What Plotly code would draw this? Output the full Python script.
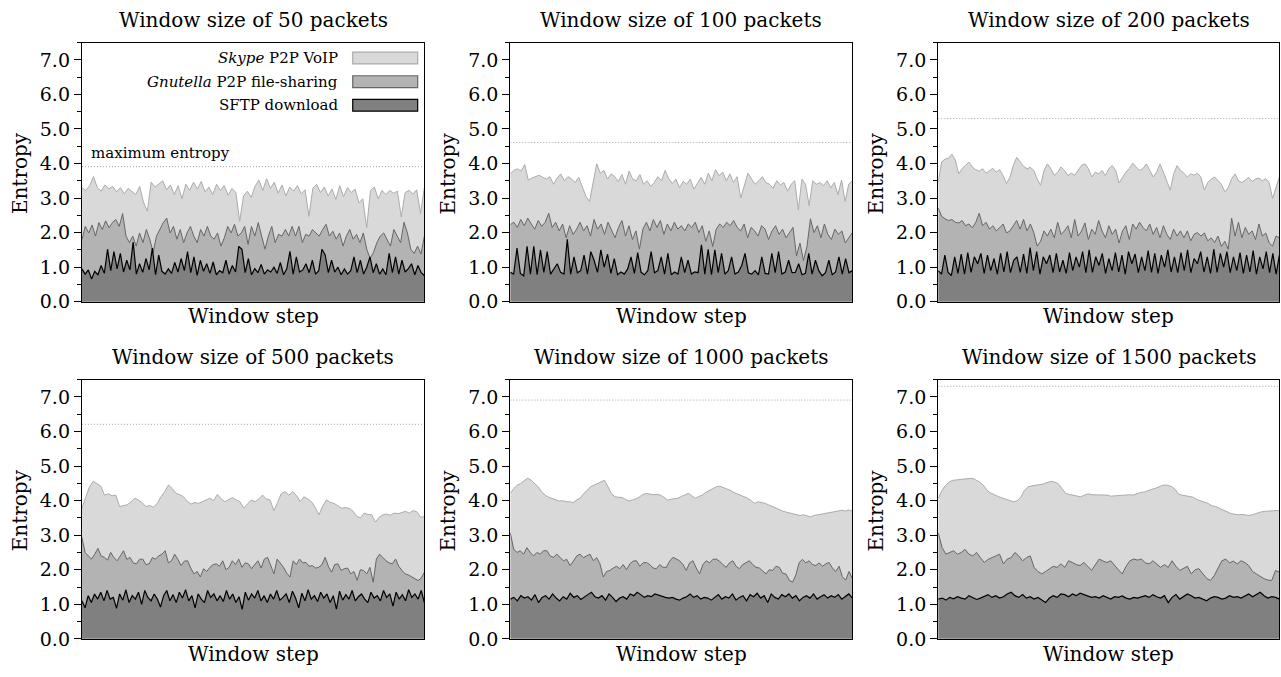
import numpy as np
import plotly.graph_objects as go

W, H = 1281, 677

window_sizes = [50, 100, 200, 500, 1000, 1500]
max_entropy = [3.91, 4.61, 5.30, 6.21, 6.91, 7.31]
series_names = ["<i>Skype</i> P2P VoIP", "<i>Gnutella</i> P2P file-sharing", "SFTP download"]
y_ticks = [0, 1, 2, 3, 4, 5, 6, 7]
y_tick_text = ["0.0", "1.0", "2.0", "3.0", "4.0", "5.0", "6.0", "7.0"]

# ---- entropy per window step, window = 50 packets ----
skype_50 = [
    3.30, 3.22, 3.36, 3.62, 3.30, 3.20, 3.38, 3.26, 3.34, 3.18,
    3.30, 3.12, 3.28, 3.20, 3.10, 3.34, 2.88, 2.62, 3.46, 3.32,
    3.42, 3.50, 3.24, 3.38, 3.10, 3.36, 2.98, 3.40, 3.22, 3.46,
    3.26, 3.48, 3.18, 3.32, 3.10, 3.40, 3.22, 3.36, 3.08, 3.28,
    3.16, 2.33, 3.06, 3.20, 3.02, 3.34, 3.52, 3.22, 3.56, 3.28,
    3.46, 3.14, 3.38, 3.06, 3.32, 3.20, 3.36, 3.12, 3.24, 2.47,
    3.28, 3.40, 3.16, 3.32, 3.06, 3.26, 2.96, 3.36, 3.04, 3.30,
    3.16, 3.26, 2.86, 2.98, 2.14, 3.22, 3.32, 2.98, 3.22, 3.10,
    3.22, 3.14, 3.20, 2.45, 3.16, 3.22, 3.12, 3.24, 2.55, 3.30,
]
gnutella_50 = [
    1.80, 2.18, 1.99, 2.22, 1.90, 2.29, 2.09, 2.34, 2.14, 2.29,
    2.38, 2.18, 2.55, 1.90, 1.71, 1.90, 1.61, 1.99, 1.71, 2.09,
    1.81, 1.43, 1.90, 2.09, 2.29, 2.42, 1.99, 2.18, 1.81, 2.09,
    1.71, 1.99, 2.18, 1.90, 1.71, 2.09, 1.90, 2.18, 1.90, 1.81,
    1.99, 1.61, 1.85, 2.18, 1.99, 2.24, 1.90, 1.99, 2.18, 1.66,
    2.18, 1.90, 2.29, 1.90, 1.52, 1.90, 2.18, 1.71, 1.95, 1.90,
    2.09, 1.90, 2.18, 1.90, 2.18, 1.71, 1.95, 1.90, 2.09, 1.99,
    1.90, 2.09, 2.24, 1.90, 2.04, 1.81, 1.99, 1.61, 1.90, 2.09,
    1.81, 1.95, 1.71, 1.99, 1.52, 1.25, 1.43, 1.71, 1.90, 1.99,
    1.81, 1.61, 2.09, 1.90, 1.71, 2.30, 1.99, 1.52, 1.40, 1.61,
    1.38, 1.90,
]
sftp_50 = [
    0.95, 0.80, 0.92, 0.66, 0.88, 0.78, 1.05, 0.82, 1.52, 0.90,
    1.45, 0.95, 1.40, 0.86, 1.20, 0.92, 1.73, 0.80, 1.10, 0.85,
    1.25, 0.92, 1.55, 0.78, 1.35, 0.88, 0.80, 0.95, 0.82, 1.14,
    0.86, 1.25, 0.90, 1.45, 0.84, 1.30, 0.76, 1.20, 0.88, 1.10,
    0.82, 1.15, 0.78, 0.90, 0.84, 1.20, 0.80, 1.05, 0.86, 1.60,
    1.52, 0.84, 1.25, 0.78, 0.96, 0.84, 1.08, 0.80, 0.92, 0.86,
    1.00, 0.82, 1.14, 0.78, 0.95, 1.46, 0.80, 1.30, 0.86, 0.92,
    1.10, 0.84, 1.20, 0.80, 0.90, 1.52, 1.35, 0.84, 1.20, 0.86,
    1.00, 0.78, 0.95, 0.80, 0.90, 1.30, 0.84, 1.20, 0.80, 1.00,
    1.30, 0.84, 1.10, 0.80, 0.95, 0.78, 1.40, 0.84, 1.30, 0.80,
    1.20, 0.86, 0.96, 1.10, 0.78, 1.05, 0.84, 0.76,
]

# ---- window = 100 packets ----
skype_100 = [
    3.70, 3.80, 3.85, 3.78, 3.97, 3.52, 3.58, 3.62, 3.66, 3.60,
    3.55, 3.62, 3.40, 3.58, 3.70, 3.50, 3.62, 3.55, 3.45, 3.60,
    3.30, 3.05, 2.90, 3.40, 3.99, 3.72, 3.80, 3.55, 3.70, 3.62,
    3.48, 3.68, 3.40, 3.78, 3.55, 3.50, 3.68, 3.40, 3.50, 3.34,
    3.45, 3.62, 3.50, 3.80, 3.56, 3.42, 3.55, 3.30, 3.48, 3.40,
    3.55, 3.26, 3.42, 3.60, 3.40, 3.72, 3.50, 3.82, 3.65, 3.75,
    3.50, 3.70, 3.45, 3.62, 3.00, 3.40, 3.72, 3.55, 3.40, 3.50,
    3.62, 3.45, 3.40, 3.28, 3.50, 3.38, 3.45, 3.20, 3.40, 3.50,
    2.66, 3.55, 3.40, 2.78, 3.50, 3.40, 3.45, 3.36, 3.50, 3.30,
    3.45, 3.10, 3.52, 2.90, 3.40, 3.50,
]
gnutella_100 = [
    2.23, 2.30, 2.15, 2.38, 2.20, 2.42, 2.25, 2.10, 2.35, 2.18,
    2.30, 2.56, 2.15, 2.30, 2.05, 2.25, 1.85, 2.20, 1.95, 2.10,
    2.30, 2.05, 2.20, 1.90, 2.38, 2.10, 2.25, 1.95, 2.30, 2.05,
    1.85, 2.15, 2.35, 1.90, 2.20, 1.80, 2.05, 1.52, 2.10, 2.30,
    2.05, 2.38, 2.15, 2.35, 1.95, 2.25, 2.05, 2.30, 2.10, 2.20,
    2.05, 2.25, 2.15, 2.30, 2.00, 2.20, 1.75, 2.05, 1.60, 2.10,
    2.25, 2.15, 2.30, 2.20, 2.35, 2.15, 2.05, 2.25, 1.85, 2.15,
    2.05, 1.90, 2.20, 2.10, 1.80, 2.05, 2.20, 1.95, 2.10, 1.85,
    2.00, 2.15, 1.33, 1.70, 1.19, 1.60, 2.40, 2.00, 2.20, 1.85,
    2.25, 1.95, 1.80, 2.10, 1.95, 2.05, 1.70, 1.85, 2.00,
]
sftp_100 = [
    0.85, 0.80, 1.55, 0.82, 0.75, 1.60, 0.80, 1.60, 0.78, 1.50,
    0.85, 1.45, 0.80, 0.95, 1.10, 0.85, 0.80, 1.81, 0.80, 1.30,
    0.84, 0.90, 1.35, 0.80, 1.45, 1.20, 0.85, 1.50, 1.00, 1.38,
    0.82, 1.25, 0.78, 0.86, 0.80, 0.95, 1.30, 0.82, 1.42, 0.85,
    0.78, 0.90, 1.45, 0.84, 0.90, 1.30, 0.80, 1.40, 0.78, 0.86,
    0.80, 1.30, 0.84, 1.20, 0.80, 0.86, 0.84, 1.65, 0.80, 1.52,
    0.78, 1.50, 0.84, 1.40, 0.80, 0.90, 1.30, 0.80, 0.86, 1.05,
    1.40, 0.84, 0.80, 0.90, 0.78, 1.30, 0.82, 0.80, 1.40, 0.84,
    1.45, 0.80, 0.86, 1.20, 0.84, 0.85, 1.10, 0.78, 0.82, 1.40,
    0.80, 1.20, 0.90, 0.75, 0.84, 1.20, 0.78, 0.86, 1.30, 0.80,
    1.25, 0.84, 0.90,
]

# ---- window = 200 packets ----
skype_200 = [
    3.47, 4.05, 4.13, 4.15, 4.27, 4.10, 3.70, 3.85, 3.95, 4.04,
    3.90, 3.82, 3.78, 3.85, 3.72, 3.80, 3.86, 3.75, 3.82, 3.65,
    3.42, 3.60, 3.95, 4.18, 4.05, 3.92, 3.85, 3.89, 3.80, 3.55,
    3.37, 3.80, 3.99, 3.85, 3.66, 3.75, 3.90, 3.80, 3.65, 3.72,
    3.66, 3.80, 3.95, 3.99, 3.85, 3.61, 3.75, 3.70, 3.80, 3.65,
    3.85, 3.94, 3.80, 3.44, 3.60, 3.75, 3.85, 4.01, 3.90, 3.80,
    3.85, 3.99, 3.80, 3.61, 3.75, 3.99, 3.75, 3.50, 3.23, 3.70,
    3.94, 3.80, 3.72, 3.61, 3.70, 3.66, 3.72, 3.60, 3.23, 3.45,
    3.55, 3.61, 3.50, 3.40, 3.18, 3.30, 3.56, 3.70, 3.50, 3.45,
    3.52, 3.60, 3.48, 3.55, 3.58, 3.50, 3.56, 3.45, 2.99, 3.30,
    3.61,
]
gnutella_200 = [
    2.71, 2.47, 2.40, 2.35, 2.38, 2.30, 2.28, 2.35, 2.20, 2.25,
    2.14, 2.30, 2.56, 2.20, 2.30, 2.10, 2.20, 2.05, 2.14, 2.25,
    1.99, 2.05, 2.20, 2.35, 2.10, 2.38, 2.05, 2.25, 2.00, 1.61,
    1.75, 2.05, 1.90, 2.10, 1.85, 2.30, 1.95, 2.05, 2.20, 1.85,
    2.38, 1.90, 2.05, 2.28, 1.80, 2.10, 1.95, 2.35, 2.05, 1.85,
    2.20, 1.95, 2.10, 1.70, 2.05, 2.20, 1.80, 2.25, 2.10, 2.30,
    2.15, 2.05, 2.25, 1.95, 2.15, 1.85, 2.20, 1.95, 1.80, 2.10,
    1.90, 2.05, 1.85, 2.05, 1.76, 1.95, 2.00, 1.90, 1.99, 1.76,
    1.85, 1.71, 1.90, 1.60, 1.75, 1.52, 2.42, 1.90, 2.30, 1.85,
    2.15, 1.95, 2.05, 1.80, 2.25, 1.90, 1.99, 1.70, 1.61, 1.90,
    1.85,
]
sftp_200 = [
    0.90, 0.80, 1.35, 0.85, 0.76, 1.30, 0.82, 1.38, 0.80, 1.42,
    0.85, 1.30, 1.10, 1.40, 0.82, 1.35, 0.90, 1.25, 0.80, 1.40,
    0.86, 1.45, 0.84, 1.20, 1.30, 0.85, 1.38, 0.82, 1.57, 0.90,
    1.45, 0.80, 1.30, 1.10, 1.35, 0.84, 1.40, 0.86, 1.20, 0.82,
    1.42, 0.90, 1.30, 1.00, 1.45, 0.84, 1.50, 0.85, 1.30, 1.05,
    1.40, 0.82, 1.25, 0.90, 1.42, 0.86, 1.35, 0.80, 1.45, 1.10,
    1.38, 0.84, 1.30, 0.90, 1.48, 0.85, 1.40, 0.82, 1.35, 1.00,
    1.50, 0.86, 1.30, 0.84, 1.42, 0.90, 1.50, 0.84, 1.25, 1.10,
    1.45, 0.86, 1.30, 0.82, 1.52, 0.85, 1.40, 1.00, 1.45, 0.84,
    1.30, 0.90, 1.42, 0.82, 1.35, 0.86, 1.48, 0.80, 1.30, 0.95,
    1.45, 0.84, 1.40, 0.80, 1.35,
]

# ---- window = 500 packets ----
skype_500 = [
    3.78, 4.10, 4.40, 4.56, 4.50, 4.42, 4.16, 4.20, 4.14, 4.16,
    3.83, 3.86, 3.88, 3.96, 4.07, 4.02, 3.94, 3.83, 3.86, 3.81,
    3.92, 4.11, 4.26, 4.45, 4.35, 4.21, 4.18, 4.11, 3.98, 3.90,
    3.95, 3.92, 3.98, 4.02, 4.07, 4.00, 4.18, 4.05, 3.97, 4.04,
    4.09, 4.02, 3.97, 3.78, 3.90, 4.02, 3.97, 4.05, 4.16, 4.05,
    4.02, 3.71, 3.95, 4.21, 4.26, 4.16, 4.26, 4.15, 3.97, 4.11,
    4.05, 3.97, 3.80, 3.59, 3.85, 4.02, 3.95, 3.92, 3.85, 3.78,
    3.80, 3.78, 3.70, 3.55, 3.50, 3.64, 3.60, 3.59, 3.38, 3.52,
    3.59, 3.61, 3.58, 3.64, 3.62, 3.66, 3.69, 3.64, 3.71, 3.68,
    3.52, 3.54,
]
gnutella_500 = [
    2.93, 2.50, 2.40, 2.31, 2.45, 2.62, 2.40, 2.36, 2.28, 2.50,
    2.35, 2.26, 2.40, 2.55, 2.30, 2.36, 2.20, 2.17, 2.30, 2.31,
    2.15, 2.17, 2.35, 2.31, 2.40, 2.45, 2.55, 2.20, 2.26, 2.45,
    2.30, 2.12, 2.25, 2.26, 2.05, 1.88, 1.95, 1.79, 2.03, 1.95,
    2.07, 2.15, 2.17, 2.10, 2.26, 2.00, 2.07, 2.26, 2.15, 2.31,
    2.07, 2.20, 2.17, 2.03, 2.15, 2.26, 2.05, 2.31, 2.36, 2.10,
    1.88, 2.31, 2.20, 2.07, 1.90, 1.79, 2.26, 2.15, 2.31, 2.20,
    2.21, 2.10, 2.12, 2.05, 2.07, 2.15, 2.36, 2.10, 1.93, 2.15,
    2.17, 1.98, 2.03, 2.05, 1.88, 1.95, 1.69, 2.00, 1.98, 1.88,
    2.07, 1.64, 2.31, 2.45, 2.36, 2.26, 2.20, 2.17, 2.31, 2.10,
    1.98, 1.88, 1.85, 1.79, 1.74, 1.69, 1.75, 1.93,
]
sftp_500 = [
    1.10, 0.90, 1.25, 1.05, 1.30, 1.15, 1.35, 1.10, 1.40, 1.15,
    1.20, 0.88, 1.30, 1.12, 1.42, 1.05, 1.25, 1.15, 1.35, 1.00,
    1.40, 1.20, 1.10, 1.30, 1.15, 0.92, 1.25, 1.40, 1.10, 1.28,
    1.05, 1.35, 1.18, 1.42, 1.10, 1.25, 0.90, 1.30, 1.15, 1.05,
    1.40, 1.20, 1.30, 1.10, 1.25, 1.08, 1.40, 1.15, 1.30, 1.05,
    1.22, 0.85, 1.35, 1.12, 1.30, 1.18, 1.40, 1.10, 1.25, 1.05,
    1.30, 1.15, 1.40, 1.12, 1.20, 1.30, 1.05, 1.38, 1.18, 0.90,
    1.32, 1.10, 1.42, 1.15, 1.25, 1.08, 1.35, 1.18, 1.30, 1.05,
    1.25, 0.86, 1.38, 1.12, 1.28, 1.15, 1.40, 1.10, 1.22, 1.30,
    1.15, 1.05, 1.35, 1.18, 1.25, 1.10, 1.40, 1.20, 1.30, 0.95,
    1.35, 1.15, 1.28, 1.10, 1.42, 1.20, 1.30, 1.15, 1.40, 1.05,
]

# ---- window = 1000 packets ----
skype_1000 = [
    4.21, 4.35, 4.45, 4.50, 4.58, 4.65, 4.59, 4.50, 4.40, 4.25,
    4.16, 4.10, 4.07, 4.02, 3.99, 4.00, 3.97, 3.97, 3.94, 4.02,
    4.07, 4.20, 4.30, 4.40, 4.45, 4.49, 4.55, 4.59, 4.40, 4.20,
    4.11, 4.10, 4.09, 4.04, 3.99, 4.02, 4.05, 4.11, 4.18, 4.21,
    4.18, 4.17, 4.18, 4.16, 4.10, 4.02, 4.04, 4.06, 4.07, 4.12,
    4.16, 4.21, 4.14, 4.07, 4.12, 4.16, 4.24, 4.30, 4.36, 4.40,
    4.42, 4.38, 4.35, 4.30, 4.24, 4.20, 4.16, 4.10, 4.07, 4.00,
    3.92, 3.97, 3.95, 3.92, 3.88, 3.83, 3.78, 3.73, 3.70, 3.67,
    3.64, 3.61, 3.60, 3.57, 3.59, 3.56, 3.53, 3.57, 3.59, 3.62,
    3.64, 3.66, 3.67, 3.69, 3.70, 3.72, 3.70, 3.73, 3.70,
]
gnutella_1000 = [
    3.07, 2.60, 2.50, 2.55, 2.45, 2.64, 2.50, 2.40, 2.50, 2.45,
    2.55, 2.55, 2.40, 2.36, 2.45, 2.35, 2.26, 2.30, 2.12, 2.25,
    2.40, 2.45, 2.35, 2.40, 2.45, 2.26, 2.35, 2.17, 1.79, 1.95,
    1.98, 2.05, 2.10, 2.03, 2.15, 2.00, 2.17, 2.25, 2.26, 2.10,
    2.20, 2.21, 2.15, 2.05, 2.03, 2.15, 2.07, 2.07, 2.25, 2.36,
    2.30, 2.26, 2.15, 1.98, 2.20, 2.26, 2.05, 1.88, 2.15, 2.26,
    2.20, 2.30, 2.31, 2.25, 2.15, 2.07, 2.20, 2.26, 2.10, 2.03,
    2.15, 2.20, 2.26, 2.15, 2.07, 2.05, 1.95, 1.88, 2.00, 1.98,
    2.10, 2.07, 1.90, 1.88, 1.70, 1.64, 1.85, 2.21, 2.30, 2.20,
    2.26, 2.15, 2.12, 2.20, 2.10, 2.17, 2.21, 2.05, 1.95, 2.10,
    1.80, 1.70, 1.95, 1.75,
]
sftp_1000 = [
    1.15, 1.20, 1.10, 1.25, 1.18, 1.22, 1.12, 1.28, 1.05, 1.20,
    1.25, 1.15, 1.30, 1.18, 1.10, 1.22, 1.15, 1.32, 1.20, 1.25,
    1.14, 1.20, 1.28, 1.35, 1.22, 1.18, 1.25, 1.12, 1.30, 1.20,
    1.08, 1.18, 1.22, 1.15, 1.30, 1.25, 1.35, 1.28, 1.20, 1.25,
    1.22, 1.30, 1.26, 1.24, 1.20, 1.18, 1.20, 1.15, 1.12, 1.18,
    1.22, 1.30, 1.20, 1.25, 1.15, 1.20, 1.18, 1.12, 1.20, 1.28,
    1.15, 1.22, 1.18, 1.30, 1.12, 1.20, 1.25, 1.10, 1.28, 1.22,
    1.32, 1.18, 1.25, 1.05, 1.30, 1.20, 1.15, 1.28, 1.22, 1.30,
    1.18, 1.25, 1.10, 1.20, 1.25, 1.18, 1.30, 1.15, 1.22, 1.28,
    1.18, 1.25, 1.20, 1.28, 1.15, 1.22, 1.30, 1.18,
]

# ---- window = 1500 packets ----
skype_1500 = [
    4.07, 4.30, 4.45, 4.55, 4.59, 4.60, 4.62, 4.63, 4.62, 4.65,
    4.60, 4.54, 4.45, 4.30, 4.22, 4.16, 4.12, 4.08, 4.05, 4.00,
    3.97, 3.99, 4.10, 4.30, 4.40, 4.43, 4.45, 4.45, 4.48, 4.52,
    4.56, 4.54, 4.49, 4.35, 4.21, 4.18, 4.15, 4.12, 4.11, 4.16,
    4.20, 4.17, 4.17, 4.16, 4.15, 4.16, 4.13, 4.14, 4.16, 4.15,
    4.16, 4.17, 4.16, 4.20, 4.24, 4.25, 4.30, 4.33, 4.36, 4.40,
    4.45, 4.45, 4.42, 4.35, 4.20, 4.16, 4.14, 4.13, 4.10, 4.03,
    3.99, 3.97, 3.92, 3.85, 3.83, 3.78, 3.73, 3.68, 3.63, 3.61,
    3.59, 3.60, 3.58, 3.57, 3.60, 3.64, 3.67, 3.69, 3.70, 3.72,
    3.72, 3.72,
]
gnutella_1500 = [
    3.07, 2.64, 2.45, 2.50, 2.55, 2.45, 2.50, 2.59, 2.45, 2.40,
    2.50, 2.35, 2.21, 2.30, 2.36, 2.40, 2.45, 2.17, 2.31, 2.35,
    2.50, 2.40, 2.26, 2.35, 2.40, 2.07, 1.95, 1.88, 1.95, 2.03,
    2.10, 2.07, 2.17, 2.07, 2.26, 2.21, 2.15, 2.12, 2.21, 2.10,
    1.98, 2.15, 2.31, 2.25, 2.21, 2.26, 2.12, 2.00, 1.88, 2.10,
    2.26, 2.31, 2.28, 2.31, 2.20, 2.17, 2.26, 2.15, 2.07, 2.15,
    2.07, 2.26, 2.10, 1.98, 2.03, 2.10, 1.88, 2.00, 2.03, 1.88,
    1.75, 1.69, 1.83, 2.05, 2.26, 2.31, 2.20, 2.25, 2.17, 2.26,
    2.21, 2.12, 1.95, 1.88, 1.80, 1.74, 1.70, 1.69, 1.98, 1.93,
]
sftp_1500 = [
    1.15, 1.18, 1.12, 1.20, 1.16, 1.22, 1.18, 1.15, 1.25, 1.20,
    1.14, 1.18, 1.24, 1.28, 1.20, 1.25, 1.18, 1.22, 1.30, 1.35,
    1.25, 1.20, 1.28, 1.18, 1.22, 1.15, 1.20, 1.12, 1.05, 1.18,
    1.25, 1.20, 1.30, 1.28, 1.22, 1.30, 1.25, 1.32, 1.28, 1.24,
    1.20, 1.22, 1.18, 1.25, 1.20, 1.15, 1.22, 1.20, 1.24, 1.18,
    1.15, 1.20, 1.18, 1.22, 1.25, 1.20, 1.28, 1.22, 1.18, 1.25,
    1.05, 1.20, 1.28, 1.15, 1.22, 1.30, 1.25, 1.18, 1.20, 1.15,
    1.10, 1.18, 1.22, 1.20, 1.15, 1.18, 1.25, 1.20, 1.22, 1.18,
    1.25, 1.30, 1.22, 1.28, 1.35, 1.25, 1.18, 1.22, 1.20, 1.15,
]

skype = [skype_50, skype_100, skype_200, skype_500, skype_1000, skype_1500]
gnutella = [gnutella_50, gnutella_100, gnutella_200, gnutella_500, gnutella_1000, gnutella_1500]
sftp = [sftp_50, sftp_100, sftp_200, sftp_500, sftp_1000, sftp_1500]

# ---- styling ----
FONT = "DejaVu Serif"
fill_colors = ["#d9d9d9", "#b3b3b3", "#808080"]
line_colors = ["#ababab", "#666666", "#000000"]
line_widths = [1.0, 1.0, 1.2]

# panel boxes in pixels: (left, right) per column, (top, bottom) per row
col_px = [(82, 424.7), (510.7, 853), (939, 1280.4)]
row_px = [(43.3, 306.7), (386, 649.4)]
row_title_py = [20, 362.7]


def px_x(px):
    return px / W


def px_y(py):
    return 1 - py / H


fig = go.Figure()
layout = {}
annotations = []
shapes = []

for i, n in enumerate(window_sizes):
    r, c = divmod(i, 3)
    suffix = "" if i == 0 else str(i + 1)
    xa, ya = "x" + suffix, "y" + suffix
    (x0, x1), (y0, y1) = col_px[c], row_px[r]

    # filled areas, back to front: Skype, Gnutella, SFTP
    for vals, fc, lc, lw in zip([skype[i], gnutella[i], sftp[i]], fill_colors, line_colors, line_widths):
        fig.add_trace(go.Scatter(
            x=np.linspace(0, 1, len(vals)), y=vals, mode="lines",
            fill="tozeroy", fillcolor=fc, line=dict(color=lc, width=lw),
            xaxis=xa, yaxis=ya, showlegend=False, hoverinfo="skip",
        ))
    # maximum possible entropy for this window size
    fig.add_trace(go.Scatter(
        x=[0, 1], y=[max_entropy[i], max_entropy[i]], mode="lines",
        line=dict(color="#a0a0a0", width=1, dash="1px,2px"),
        xaxis=xa, yaxis=ya, showlegend=False, hoverinfo="skip",
    ))

    layout["xaxis" + suffix] = dict(
        domain=[px_x(x0), px_x(x1)], range=[0, 1], anchor=ya,
        showticklabels=False, ticks="", showgrid=False, zeroline=False,
        showline=True, mirror=True, linecolor="black", linewidth=1.3,
    )
    layout["yaxis" + suffix] = dict(
        domain=[px_y(y1), px_y(y0)], range=[0, 7.5], anchor=xa,
        tickvals=y_ticks, ticktext=y_tick_text, ticks="outside", ticklen=7,
        tickwidth=1, tickcolor="black",
        minor=dict(ticks="outside", ticklen=4, dtick=0.5, tick0=0, tickcolor="black", tickwidth=1),
        tickfont=dict(family=FONT, size=19, color="black"),
        showgrid=False, zeroline=False,
        showline=True, mirror=True, linecolor="black", linewidth=1.3,
    )

    cx = (x0 + x1) / 2
    annotations.append(dict(
        text=f"Window size of {n} packets", x=px_x(cx), y=px_y(row_title_py[r]),
        xref="paper", yref="paper", xanchor="center", yanchor="middle",
        showarrow=False, font=dict(family=FONT, size=20, color="black"),
    ))
    annotations.append(dict(
        text="Window step", x=px_x(cx), y=px_y(y1 + 15),
        xref="paper", yref="paper", xanchor="center", yanchor="middle",
        showarrow=False, font=dict(family=FONT, size=20, color="black"),
    ))
    annotations.append(dict(
        text="Entropy", x=px_x(x0 - 62), y=px_y((y0 + y1) / 2 + 1),
        xref="paper", yref="paper", xanchor="center", yanchor="middle",
        textangle=-90, showarrow=False, font=dict(family=FONT, size=20, color="black"),
    ))

# "maximum entropy" label in the first panel
annotations.append(dict(
    text="maximum entropy", x=px_x(89), y=max_entropy[0],
    xref="paper", yref="y", xanchor="left", yanchor="bottom", yshift=3,
    showarrow=False, font=dict(family=FONT, size=15, color="black"),
))

# legend inside the first panel: right-aligned labels followed by swatches
legend_rows = [(53, 65), (77, 89), (101, 113)]
for name, fc, lc, (t, b) in zip(series_names, fill_colors, line_colors, legend_rows):
    shapes.append(dict(
        type="rect", xref="paper", yref="paper",
        x0=px_x(353), x1=px_x(418), y0=px_y(b), y1=px_y(t),
        fillcolor=fc, line=dict(color=lc, width=1.2),
    ))
    annotations.append(dict(
        text=name, x=px_x(340), y=px_y((t + b) / 2),
        xref="paper", yref="paper", xanchor="right", yanchor="middle",
        showarrow=False, font=dict(family=FONT, size=15, color="black"),
    ))

fig.update_layout(
    width=W, height=H, margin=dict(l=0, r=0, t=0, b=0),
    paper_bgcolor="white", plot_bgcolor="white",
    font=dict(family=FONT, color="black"),
    annotations=annotations, shapes=shapes, showlegend=False,
    **layout,
)

fig.write_html("out.html")
